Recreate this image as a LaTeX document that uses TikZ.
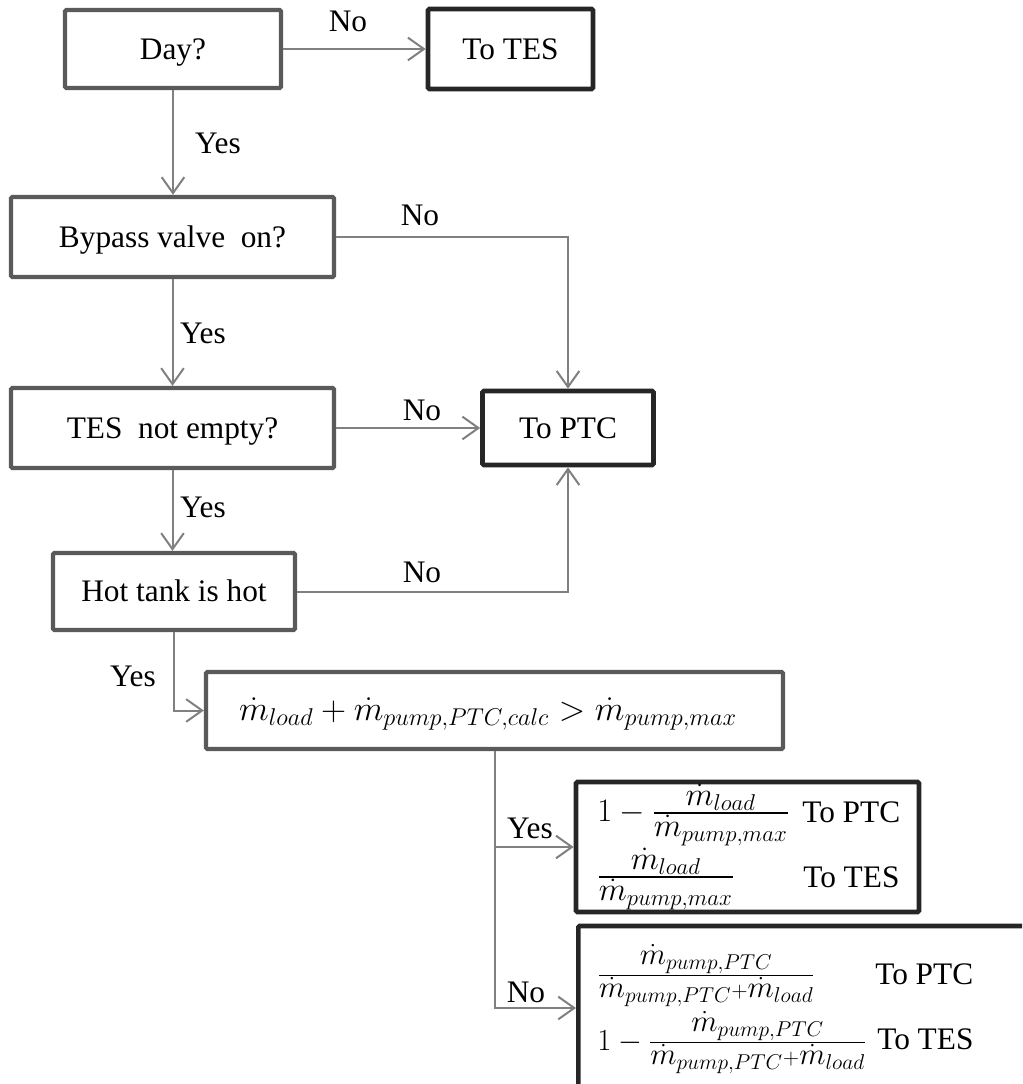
\documentclass[tikz,border=0pt]{standalone}
\usepackage{fix-cm}
\usepackage{amsmath}
\usepackage{fontspec}
\setmainfont{Liberation Serif}
\usetikzlibrary{arrows.meta}

\definecolor{boxgray}{HTML}{5A5A5A}
\definecolor{boxdark}{HTML}{262626}
\definecolor{linegray}{HTML}{808080}

% compact sum used in the denominators
\newcommand{\flowsum}{\dot m_{pump,PTC}{\scriptstyle +}\dot m_{load}}
% tight fraction with full-size numerator and denominator
\newcommand{\ratio}[2]{\frac{\displaystyle #1}{\displaystyle #2}}

\begin{document}
\begin{tikzpicture}[x=0.75pt,y=-0.75pt,
  every node/.style={inner sep=0pt},
  txt/.style={font=\fontsize{23.5}{28}\selectfont, text height=15.5pt, text depth=0pt},
  eq/.style={font=\fontsize{24.5}{29}\selectfont, anchor=base west},
  eqsmall/.style={eq, font=\fontsize{23}{27}\selectfont},
  sz/.style 2 args={minimum width=#1*0.75pt, minimum height=#2*0.75pt},
  query/.style={txt, draw=boxgray, line width=3.2pt, rounded corners=1pt},
  outcome/.style={txt, draw=boxdark, line width=3.5pt, rounded corners=1pt},
  flow/.style={draw=linegray, line width=1.5pt, -{Straight Barb[length=12pt,width=17pt]}},
  tag/.style={txt}]

\useasboundingbox (0,0) rectangle (1022,1084);
\clip (0,0) rectangle (1022,1084);

% decision and outcome boxes
\node[query, sz={216}{78}] (day) at (173,49) {Day?};
\node[outcome, sz={165}{80}] (tes) at (510.5,49) {To TES};
\node[query, sz={323}{80}] (byp) at (172.5,237) {Bypass valve\ \ on?};
\node[query, sz={323}{80}] (tne) at (172.5,428) {TES\ \ not empty?};
\node[outcome, sz={171}{74}] (ptc) at (568,428) {To PTC};
\node[query, sz={242}{77}] (hot) at (174,591.5) {Hot tank is hot};
\node[query, sz={577}{77}] (cmp) at (494.5,710.5) {};
\node[font=\fontsize{26}{30}\selectfont, anchor=base] (cmptext) at (488,720)
  {$\dot m_{load}+\dot m_{pump,PTC,calc}>\dot m_{pump,max}$};
\node[outcome, sz={343}{130}] (yesbox) at (747.5,847) {};
\node[outcome, sz={470}{164}, anchor=west] (nobox) at (576,1008) {};

% split ratios inside the result boxes (placed on their baselines)
\node[eq] (ya) at (597,821)
  {$1-\ratio{\dot m_{load}}{\dot m_{pump,max}}$};
\node[txt, anchor=west] (yat) at (802,812) {To PTC};
\node[eq] (yb) at (597,885)
  {$\ratio{\dot m_{load}}{\dot m_{pump,max}}$};
\node[txt, anchor=west] (ybt) at (803,877) {To TES};
\node[eqsmall] (na) at (597,983)
  {$\ratio{\dot m_{pump,PTC}}{\flowsum}$};
\node[txt, anchor=west] (nat) at (875,974) {To PTC};
\node[eqsmall] (nb) at (597,1050)
  {$1-\ratio{\dot m_{pump,PTC}}{\flowsum}$};
\node[txt, anchor=west] (nbt) at (877,1039) {To TES};

% connectors
\draw[flow] (day) -- (tes);
\draw[flow] (day.south) -- (day.south |- byp.north);
\draw[flow] (byp.east) -| (ptc.north);
\draw[flow] (byp) -- (tne);
\draw[flow] (tne) -- (ptc);
\draw[flow] (tne.south) -- (tne.south |- hot.north);
\draw[flow] (hot.east) -| (ptc.south);
\draw[flow] (hot.south) |- (cmp.west);
\draw[flow] (cmp.south) |- (yesbox.west);
\draw[flow] (cmp.south) |- (nobox.west);

% branch labels
\node[tag] (l1) at (348,21) {No};
\node[tag] (l2) at (218,143) {Yes};
\node[tag] (l3) at (420,215) {No};
\node[tag] (l4) at (203,333) {Yes};
\node[tag] (l5) at (422,410) {No};
\node[tag] (l6) at (203,507) {Yes};
\node[tag] (l7) at (422,572) {No};
\node[tag] (l8) at (133,676) {Yes};
\node[tag] (l9) at (530,828) {Yes};
\node[tag] (l10) at (526,992) {No};
\end{tikzpicture}
\end{document}
